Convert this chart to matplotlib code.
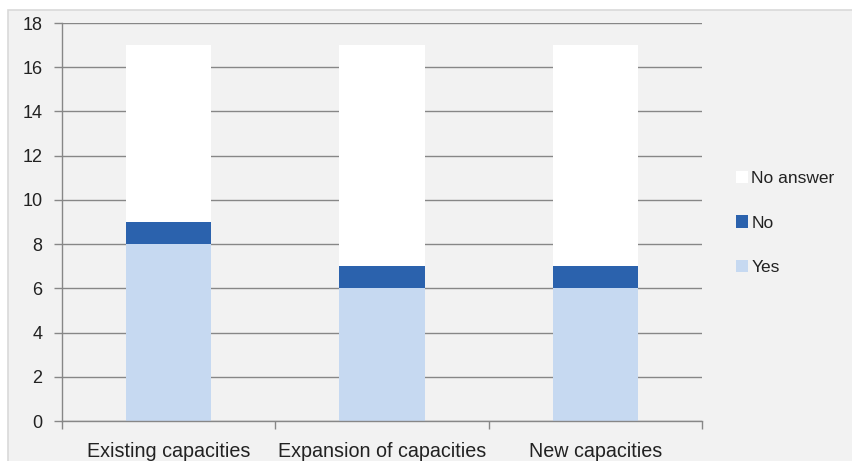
import matplotlib
matplotlib.use("Agg")
import matplotlib.pyplot as plt
from matplotlib.patches import Rectangle, Patch

plt.rcParams['font.family'] = ['Liberation Sans', 'DejaVu Sans']

categories = ['Existing capacities', 'Expansion of capacities', 'New capacities']
yes = [8, 6, 6]
no = [1, 1, 1]
no_answer = [8, 10, 10]

c_yes = '#c6d9f1'
c_no = '#2b62ad'
c_na = '#ffffff'
bg = '#f2f2f2'
grid_c = '#878787'

fig = plt.figure(figsize=(8.52, 4.61), dpi=100)
fig.patch.set_facecolor('white')
# grey chart area with a thin light border (extends past right/bottom edge)
fig.patches.append(Rectangle((8 / 852, -0.02), 1.05, 1 - 10 / 461 + 0.02,
                             transform=fig.transFigure, facecolor=bg,
                             edgecolor='#d9d9d9', linewidth=1.2, zorder=-5))

ax = fig.add_axes([62 / 852, 1 - 421 / 461, 640 / 852, 398 / 461])
ax.set_facecolor(bg)

x = range(len(categories))
w = 0.4
ax.bar(x, yes, w, color=c_yes, zorder=2)
ax.bar(x, no, w, bottom=yes, color=c_no, zorder=2)
bottom2 = [a + b for a, b in zip(yes, no)]
ax.bar(x, no_answer, w, bottom=bottom2, color=c_na, zorder=2)

ax.set_xlim(-0.5, len(categories) - 0.5)
ax.set_ylim(0, 18)
ax.set_yticks(range(0, 19, 2))
ax.yaxis.grid(True, color=grid_c, linewidth=1, zorder=1)
ax.set_axisbelow(True)

# major ticks at category boundaries, labels on minor ticks at centres
ax.set_xticks([i - 0.5 for i in range(len(categories) + 1)], minor=False)
ax.set_xticklabels([])
ax.set_xticks(list(x), minor=True)
ax.set_xticklabels(categories, minor=True)
ax.tick_params(axis='x', which='major', length=6, color=grid_c, width=1)
ax.tick_params(axis='x', which='minor', length=0, labelsize=14.2,
               labelcolor='#222222', pad=15)
ax.tick_params(axis='y', length=6, color=grid_c, width=1, labelsize=13,
               labelcolor='#222222', pad=8)

for s in ['top', 'right']:
    ax.spines[s].set_visible(False)
for s in ['left', 'bottom']:
    ax.spines[s].set_color(grid_c)
    ax.spines[s].set_linewidth(1)

handles = [Patch(facecolor=c_na, label='No answer'),
           Patch(facecolor=c_no, label='No'),
           Patch(facecolor=c_yes, label='Yes')]
fig.legend(handles=handles, loc='center left',
           bbox_to_anchor=(720 / 852, 1 - 223 / 461), frameon=False,
           fontsize=12.5, handlelength=0.7, handleheight=0.7,
           handletextpad=0.2, labelspacing=1.7, labelcolor='#222222')

fig.savefig('out.png', dpi=100, facecolor=fig.get_facecolor())
